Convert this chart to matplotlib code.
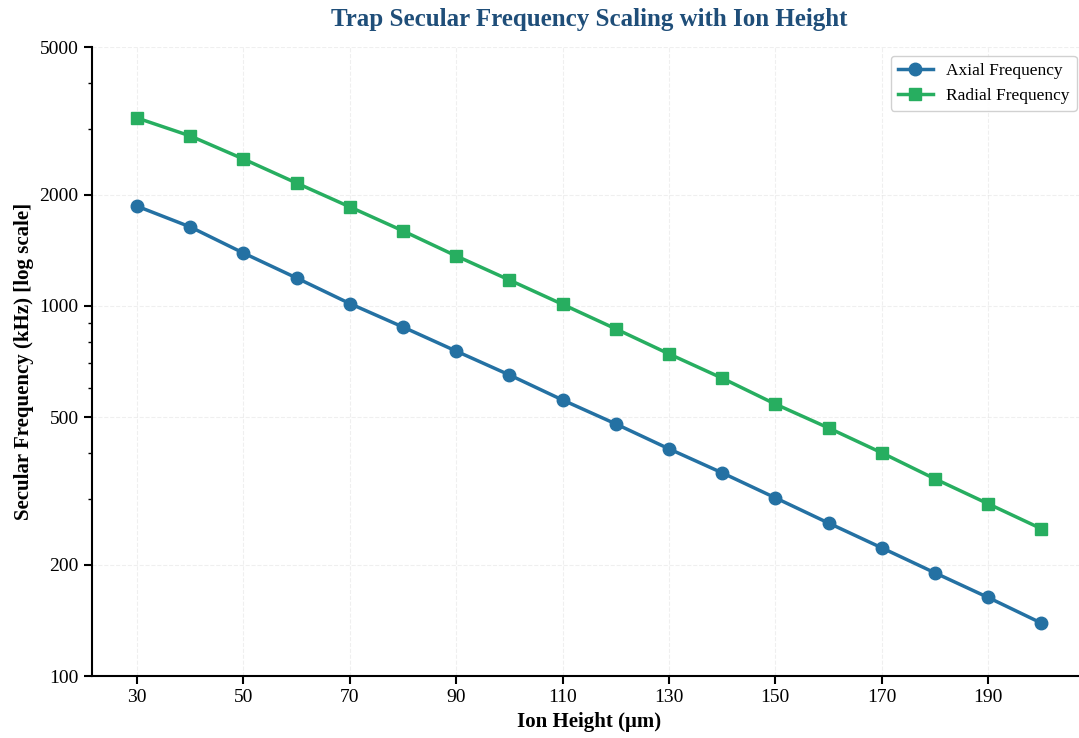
import numpy as np
import matplotlib.pyplot as plt
from matplotlib.ticker import FixedLocator, FixedFormatter, NullFormatter

plt.rcParams['font.family'] = ['Liberation Serif', 'DejaVu Serif']

# Ion height (um) and secular frequencies (kHz)
heights = [30, 40, 50, 60, 70, 80, 90, 100, 110, 120, 130, 140, 150, 160, 170, 180, 190, 200]
axial_khz = [1860, 1635, 1390, 1190, 1015, 877, 755, 651, 557, 480, 411, 354,
             303, 259, 222, 190, 163, 139]
radial_khz = [3220, 2880, 2495, 2148, 1852, 1595, 1365, 1175, 1010, 867, 742, 638,
              543, 468, 401, 341, 292, 250]

y_ticks = [100, 200, 500, 1000, 2000, 5000]
x_ticks = list(range(30, 201, 20))

fig, ax = plt.subplots(figsize=(10.79, 7.38), dpi=100)

ax.plot(heights, axial_khz, marker='o', color='#2471A3', linewidth=2.5,
        markersize=9, label='Axial Frequency')
ax.plot(heights, radial_khz, marker='s', color='#27AE60', linewidth=2.5,
        markersize=9, label='Radial Frequency')

ax.set_yscale('log')
ax.set_ylim(100, 5000)
ax.yaxis.set_major_locator(FixedLocator(y_ticks))
ax.yaxis.set_major_formatter(FixedFormatter([str(v) for v in y_ticks]))
ax.yaxis.set_minor_formatter(NullFormatter())
ax.set_xticks(x_ticks)

ax.tick_params(axis='both', labelsize=14, width=1.5, length=6)
ax.tick_params(axis='y', which='minor', width=1, length=3)

ax.set_xlabel('Ion Height (μm)', fontsize=15, fontweight='bold')
ax.set_ylabel('Secular Frequency (kHz) [log scale]', fontsize=15, fontweight='bold')
ax.set_title('Trap Secular Frequency Scaling with Ion Height', fontsize=18,
             fontweight='bold', color='#1F4E79', pad=15)

ax.grid(True, which='major', linestyle='--', alpha=0.3, color='#cccccc')
ax.spines['top'].set_visible(False)
ax.spines['right'].set_visible(False)
for s in ['left', 'bottom']:
    ax.spines[s].set_linewidth(1.5)

ax.legend(loc='upper right', fontsize=12.5, framealpha=0.9,
          bbox_to_anchor=(0.999, 1.0))

fig.subplots_adjust(left=0.085, right=1.007, top=0.936, bottom=0.084)
fig.savefig('out.png', dpi=100)
